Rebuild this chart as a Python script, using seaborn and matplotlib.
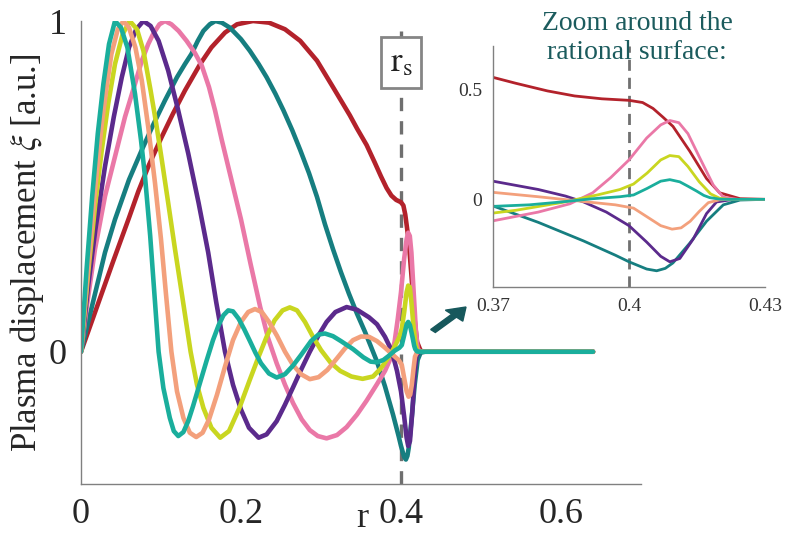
import numpy as np
import pandas as pd
import matplotlib
matplotlib.use("Agg")
import matplotlib.pyplot as plt
import seaborn as sns

# values (r, plasma displacement xi)
r_red = [0, 0.02, 0.04, 0.06, 0.0717, 0.085, 0.1008, 0.115, 0.13, 0.149, 0.163, 0.18, 0.195, 0.215,
         0.235, 0.255, 0.274, 0.295, 0.315, 0.336, 0.345, 0.357, 0.367, 0.375, 0.382, 0.388, 0.394,
         0.40, 0.403, 0.4053, 0.4075, 0.4097, 0.4134, 0.4171, 0.42, 0.4245, 0.43, 0.64]
xi_red = [0, 0.136, 0.272, 0.405, 0.485, 0.565, 0.649, 0.72, 0.79, 0.87, 0.92, 0.965, 0.99, 1.0,
          0.995, 0.975, 0.94, 0.88, 0.80, 0.715, 0.675, 0.625, 0.573, 0.53, 0.495, 0.472, 0.459,
          0.452, 0.442, 0.415, 0.375, 0.333, 0.22, 0.095, 0.03, 0.003, 0, 0]

r_dteal = [0, 0.0175, 0.03, 0.0425, 0.06, 0.076, 0.09, 0.105, 0.12, 0.13, 0.138, 0.146, 0.153,
           0.161, 0.168, 0.176, 0.186, 0.2, 0.211, 0.222, 0.232, 0.243, 0.253, 0.264, 0.274, 0.285,
           0.295, 0.305, 0.315, 0.325, 0.335, 0.345, 0.355, 0.365, 0.37, 0.38, 0.39, 0.397, 0.40,
           0.4039, 0.4061, 0.408, 0.4097, 0.4134, 0.4171, 0.4208, 0.4245, 0.43, 0.64]
xi_dteal = [0, 0.175, 0.3, 0.4, 0.52, 0.61, 0.685, 0.76, 0.83, 0.87, 0.9, 0.94, 0.97, 0.99, 1.0,
            0.995, 0.98, 0.945, 0.91, 0.87, 0.83, 0.78, 0.73, 0.67, 0.61, 0.54, 0.468, 0.385,
            0.31, 0.24, 0.175, 0.115, 0.06, 0.0, -0.03, -0.105, -0.19, -0.255, -0.285, -0.318,
            -0.326, -0.315, -0.29, -0.2, -0.1, -0.025, -0.003, 0, 0]

r_pink = [0, 0.008, 0.0175, 0.03, 0.0425, 0.055, 0.0675, 0.076, 0.084, 0.09, 0.098, 0.105, 0.113,
          0.122, 0.132, 0.142, 0.151, 0.16, 0.1675, 0.176, 0.185, 0.193, 0.2, 0.212, 0.224, 0.234,
          0.2446, 0.255, 0.265, 0.276, 0.286, 0.296, 0.307, 0.32, 0.332, 0.345, 0.357, 0.37, 0.38,
          0.387, 0.392, 0.396, 0.40, 0.4039, 0.407, 0.409, 0.411, 0.413, 0.4156, 0.4186, 0.4208,
          0.424, 0.64]
xi_pink = [0, 0.15, 0.31, 0.47, 0.59, 0.71, 0.81, 0.88, 0.93, 0.96, 0.99, 1.0, 0.99, 0.97, 0.94,
           0.905, 0.865, 0.8, 0.73, 0.64, 0.55, 0.47, 0.4, 0.265, 0.135, 0.04, -0.035, -0.1,
           -0.155, -0.205, -0.237, -0.255, -0.262, -0.252, -0.228, -0.19, -0.148, -0.098,
           -0.058, -0.02, 0.03, 0.1, 0.18, 0.28, 0.34, 0.36, 0.35, 0.3, 0.19, 0.065, 0.01, 0, 0]

r_purple = [0, 0.009, 0.018, 0.03, 0.041, 0.051, 0.06, 0.069, 0.078, 0.087, 0.097, 0.109, 0.121,
            0.134, 0.147, 0.159, 0.169, 0.18, 0.19, 0.2, 0.21, 0.222, 0.232, 0.2446, 0.255, 0.265,
            0.276, 0.286, 0.297, 0.307, 0.318, 0.332, 0.345, 0.36, 0.37, 0.38, 0.386, 0.39, 0.395,
            0.40, 0.4039, 0.407, 0.409, 0.4112, 0.4142, 0.4171, 0.4193, 0.423, 0.64]
xi_purple = [0, 0.2, 0.37, 0.56, 0.71, 0.83, 0.92, 0.975, 1.0, 0.985, 0.94, 0.85, 0.735, 0.6,
             0.45, 0.3, 0.15, 0.0, -0.1, -0.175, -0.23, -0.26, -0.25, -0.21, -0.16, -0.108,
             -0.05, 0.0, 0.05, 0.09, 0.12, 0.135, 0.127, 0.104, 0.083, 0.045, 0.015, -0.012,
             -0.058, -0.12, -0.195, -0.26, -0.285, -0.27, -0.18, -0.065, -0.012, 0, 0]

r_yellow = [0, 0.009, 0.018, 0.026, 0.034, 0.0425, 0.052, 0.061, 0.07, 0.078, 0.087, 0.094, 0.101,
            0.109, 0.1175, 0.127, 0.137, 0.145, 0.153, 0.163, 0.174, 0.185, 0.198, 0.211, 0.222,
            0.232, 0.242, 0.252, 0.261, 0.27, 0.28, 0.29, 0.3, 0.312, 0.324, 0.338, 0.352, 0.365,
            0.375, 0.385, 0.393, 0.398, 0.401, 0.404, 0.407, 0.409, 0.411, 0.413, 0.4155, 0.418,
            0.42, 0.422, 0.64]
xi_yellow = [0, 0.24, 0.45, 0.61, 0.75, 0.87, 0.96, 1.0, 0.975, 0.91, 0.79, 0.69, 0.58, 0.45, 0.31,
             0.16, 0.0, -0.1, -0.17, -0.23, -0.26, -0.24, -0.17, -0.085, -0.015, 0.045, 0.095,
             0.125, 0.134, 0.125, 0.09, 0.045, 0.005, -0.033, -0.058, -0.075, -0.082, -0.075,
             -0.05, -0.015, 0.02, 0.045, 0.07, 0.12, 0.18, 0.2, 0.195, 0.15, 0.08, 0.025, 0.005,
             0, 0]

r_orange = [0, 0.009, 0.018, 0.026, 0.032, 0.038, 0.046, 0.053, 0.06, 0.068, 0.076, 0.084, 0.0925,
            0.1, 0.106, 0.113, 0.12, 0.128, 0.136, 0.144, 0.152, 0.16, 0.17, 0.18, 0.19, 0.2,
            0.209, 0.2175, 0.226, 0.235, 0.245, 0.255, 0.265, 0.275, 0.286, 0.297, 0.308, 0.32,
            0.33, 0.34, 0.35, 0.36, 0.37, 0.38, 0.39, 0.397, 0.401, 0.404, 0.407, 0.4095, 0.4115,
            0.4135, 0.4155, 0.4175, 0.42, 0.422, 0.64]
xi_orange = [0, 0.26, 0.5, 0.69, 0.8, 0.9, 0.975, 1.0, 0.98, 0.92, 0.82, 0.68, 0.51, 0.34, 0.18,
             0.0, -0.12, -0.2, -0.245, -0.258, -0.245, -0.205, -0.13, -0.045, 0.035, 0.09,
             0.12, 0.129, 0.12, 0.09, 0.048, 0.0, -0.04, -0.068, -0.083, -0.077, -0.055, -0.02,
             0.01, 0.035, 0.046, 0.045, 0.032, 0.012, -0.01, -0.025, -0.04, -0.08, -0.12, -0.136,
             -0.13, -0.1, -0.055, -0.015, -0.002, 0, 0]

r_lteal = [0, 0.007, 0.014, 0.021, 0.028, 0.035, 0.0425, 0.05, 0.058, 0.0675, 0.075, 0.08, 0.0865,
           0.0925, 0.097, 0.103, 0.111, 0.116, 0.1216, 0.128, 0.134, 0.14, 0.148, 0.157, 0.165,
           0.172, 0.178, 0.184, 0.19, 0.197, 0.204, 0.211, 0.218, 0.225, 0.235, 0.2446, 0.255,
           0.265, 0.275, 0.2875, 0.297, 0.305, 0.315, 0.325, 0.34, 0.353, 0.362, 0.37, 0.378,
           0.385, 0.392, 0.398, 0.401, 0.404, 0.407, 0.409, 0.4112, 0.413, 0.4149, 0.4165,
           0.4178, 0.42, 0.422, 0.64]
xi_lteal = [0, 0.25, 0.47, 0.66, 0.81, 0.93, 1.0, 0.98, 0.92, 0.78, 0.64, 0.53, 0.35, 0.15, 0.0,
            -0.11, -0.2, -0.24, -0.255, -0.243, -0.21, -0.165, -0.1, -0.027, 0.035, 0.08, 0.11,
            0.125, 0.122, 0.1, 0.068, 0.033, -0.003, -0.035, -0.066, -0.078, -0.068, -0.042,
            -0.01, 0.032, 0.052, 0.055, 0.047, 0.032, 0.008, -0.017, -0.03, -0.032, -0.025,
            -0.012, 0.003, 0.012, 0.02, 0.05, 0.083, 0.09, 0.08, 0.06, 0.038, 0.018, 0.008,
            0.001, 0, 0]

curves = [
    (r_red, xi_red, "#b3222b"),
    (r_dteal, xi_dteal, "#167e80"),
    (r_pink, xi_pink, "#ea78a7"),
    (r_purple, xi_purple, "#5b2a8c"),
    (r_yellow, xi_yellow, "#c9d620"),
    (r_orange, xi_orange, "#f3a07c"),
    (r_lteal, xi_lteal, "#1aae9c"),
]

r_s = 0.4

sns.set_theme(style="white")
plt.rcParams["font.family"] = ["Liberation Serif", "DejaVu Serif"]
plt.rcParams["mathtext.fontset"] = "stix"

fig = plt.figure(figsize=(7.94, 5.38), dpi=100)
spine_col = "#808080"
text_col = "#1b5b5d"

# main axes
ax = fig.add_axes([81 / 794, 54 / 538, 560 / 794, 463 / 538])
for r, xi, col in curves:
    sns.lineplot(x=r, y=xi, color=col, lw=3.3, ax=ax, estimator=None, sort=False)
ax.plot([r_s, r_s], [-0.4, 0.97], color="#6f6f6f", lw=2.4, dashes=(4, 3), zorder=1)
ax.text(r_s, 0.875, r"$\mathrm{r_s}$", fontsize=25, ha="center", va="center", color="#222222",
        bbox=dict(boxstyle="square,pad=0.25", fc="white", ec="#858585", lw=2), zorder=5)
ax.set_xlim(0, 0.7)
ax.set_ylim(-0.4, 1.0)
ax.set_xticks([0, 0.2, 0.4, 0.6])
ax.set_xticklabels(["0", "0.2", "0.4", "0.6"])
ax.set_yticks([0, 1])
ax.set_yticklabels(["0", "1"])
ax.tick_params(direction="in", length=5, width=1, color=spine_col, labelsize=26, pad=10)
for s in ["top", "right"]:
    ax.spines[s].set_visible(False)
for s in ["left", "bottom"]:
    ax.spines[s].set_color(spine_col)
    ax.spines[s].set_linewidth(1)
ax.set_ylabel(r"Plasma displacement $\xi$ [a.u.]", fontsize=25, labelpad=2)
fig.text(362 / 794, 0.02, "r", fontsize=26, ha="center", va="baseline")

# inset zoom around the rational surface
axi = fig.add_axes([493 / 794, 251 / 538, 272 / 794, 241 / 538])
for r, xi, col in curves:
    sns.lineplot(x=r, y=xi, color=col, lw=2.0, ax=axi, estimator=None, sort=False)
axi.plot([r_s, r_s], [-0.4, 0.7], color="#707070", lw=2.0, dashes=(4, 2.5), zorder=1)
axi.set_xlim(0.37, 0.43)
axi.set_ylim(-0.4, 0.7)
axi.set_xticks([0.37, 0.4, 0.43])
axi.set_xticklabels(["0.37", "0.4", "0.43"])
axi.set_yticks([0, 0.5])
axi.set_yticklabels(["0", "0.5"])
axi.tick_params(direction="in", length=4, width=1, color=spine_col, labelsize=14, pad=8,
                labelcolor="#333333")
axi.patch.set_alpha(0)
for s in ["top", "right"]:
    axi.spines[s].set_visible(False)
for s in ["left", "bottom"]:
    axi.spines[s].set_color(spine_col)
    axi.spines[s].set_linewidth(1)
axi.set_xlabel("")
axi.set_ylabel("")

fig.text(637 / 794, 1 - 38 / 538, "Zoom around the\nrational surface:", fontsize=20,
         color=text_col, ha="center", va="center", linespacing=1.25)

fig.patches.append(matplotlib.patches.FancyArrow(
    433 / 794, 1 - 331 / 538, 33 / 794, 24 / 538, width=0.008, head_width=0.03,
    head_length=0.022, length_includes_head=True, color="#17585c", transform=fig.transFigure,
    figure=fig))

fig.savefig("out.png", dpi=100)
